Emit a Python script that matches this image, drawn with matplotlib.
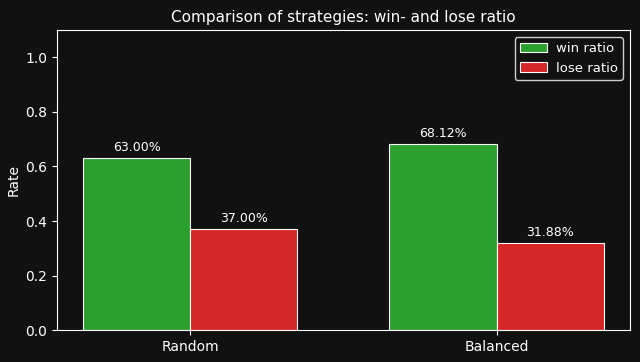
import matplotlib.pyplot as plt
import numpy as np

strategies = ['Random', 'Balanced']
win_ratio = [0.63, 0.6812]
lose_ratio = [0.37, 0.3188]

plt.style.use('dark_background')
bg = '#111111'

fig, ax = plt.subplots(figsize=(6.4, 3.62), dpi=100)
fig.patch.set_facecolor(bg)
ax.set_facecolor(bg)

x = np.arange(len(strategies))
width = 0.35

b1 = ax.bar(x - width / 2, win_ratio, width, label='win ratio',
            color='#2ca02c', edgecolor='white', linewidth=0.8)
b2 = ax.bar(x + width / 2, lose_ratio, width, label='lose ratio',
            color='#d62728', edgecolor='white', linewidth=0.8)

for bars in (b1, b2):
    for b in bars:
        h = b.get_height()
        ax.annotate(f'{h * 100:.2f}%', xy=(b.get_x() + b.get_width() / 2, h),
                    xytext=(0, 3), textcoords='offset points',
                    ha='center', va='bottom', fontsize=9, color='white')

ax.set_xticks(x)
ax.set_xticklabels(strategies)
ax.set_ylabel('Rate', labelpad=3)
ax.set_ylim(0, 1.1)
ax.set_title('Comparison of strategies: win- and lose ratio', fontsize=11)
leg = ax.legend(loc='upper right', facecolor=bg, edgecolor='white', fontsize=9.5,
                handlelength=2.05, handletextpad=0.68, borderpad=0.38,
                borderaxespad=0.53)

fig.subplots_adjust(left=0.089, right=0.984, top=0.917, bottom=0.088)
fig.savefig('out.png', dpi=100, facecolor=bg)
